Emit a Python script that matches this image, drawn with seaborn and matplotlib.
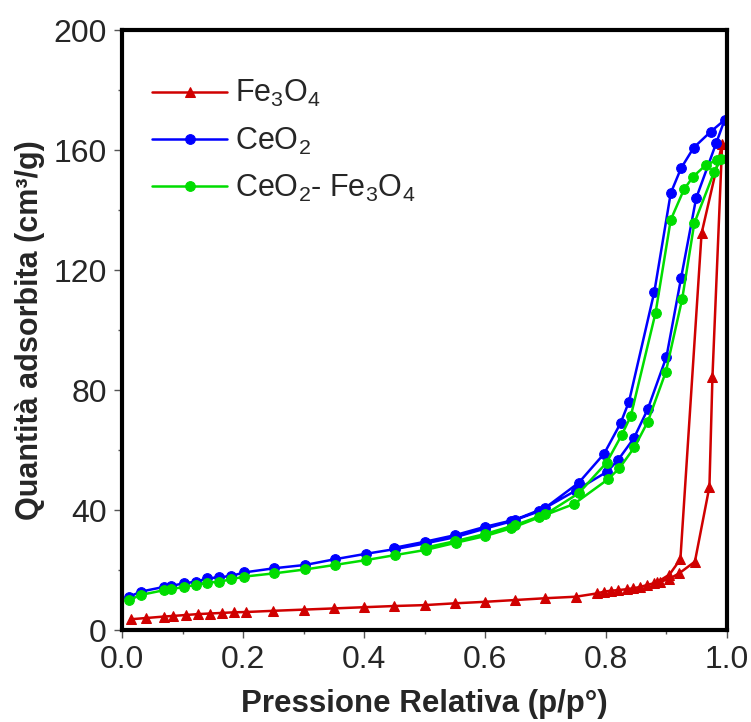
import numpy as np
import pandas as pd
import matplotlib
matplotlib.use("Agg")
import matplotlib.pyplot as plt
import seaborn as sns
from matplotlib.ticker import MultipleLocator

# Fe3O4: adsorption then desorption
fe_x = [0.015, 0.04, 0.07, 0.085, 0.105, 0.125, 0.145, 0.165, 0.185, 0.205,
        0.25, 0.30, 0.35, 0.40, 0.45, 0.50, 0.55, 0.60, 0.65, 0.70, 0.75,
        0.785, 0.797, 0.808, 0.82, 0.834, 0.845, 0.857, 0.868, 0.879, 0.89,
        0.904, 0.921, 0.947, 0.971, 0.976, 0.992,
        0.958, 0.923, 0.905, 0.885]
fe_y = [3.6, 4.0, 4.5, 4.7, 5.0, 5.3, 5.5, 5.7, 5.9, 6.0,
        6.4, 6.8, 7.2, 7.6, 8.0, 8.3, 8.9, 9.4, 10.0, 10.6, 11.1,
        12.2, 12.8, 13.1, 13.3, 13.6, 13.9, 14.4, 15.0, 15.6, 16.1,
        17.0, 18.9, 22.8, 47.8, 84.4, 162.0,
        132.2, 23.6, 18.5, 16.0]

# CeO2
ce_x = [0.012, 0.031, 0.07, 0.081, 0.103, 0.122, 0.141, 0.161, 0.18, 0.202,
        0.252, 0.303, 0.352, 0.403, 0.452, 0.502, 0.552, 0.60, 0.643, 0.69,
        0.75, 0.802, 0.82, 0.846, 0.869, 0.90, 0.924, 0.949, 0.982, 0.996,
        0.973, 0.945, 0.924, 0.907, 0.88, 0.838, 0.824, 0.797, 0.755, 0.70,
        0.65, 0.60, 0.55, 0.50, 0.45]
ce_y = [11.1, 12.8, 14.4, 14.7, 15.6, 16.1, 17.2, 17.6, 18.0, 19.2,
        20.6, 21.7, 23.6, 25.4, 27.0, 28.9, 31.0, 33.8, 36.2, 39.6,
        46.5, 52.8, 56.7, 63.9, 73.6, 91.1, 117.2, 143.9, 162.2, 170.0,
        166.1, 160.8, 153.9, 145.6, 112.8, 76.1, 68.9, 58.8, 49.1, 40.8,
        36.8, 34.4, 31.6, 29.4, 27.4]

# CeO2-Fe3O4
mix_x = [0.012, 0.031, 0.07, 0.081, 0.103, 0.122, 0.141, 0.161, 0.18, 0.202,
         0.252, 0.303, 0.352, 0.403, 0.452, 0.502, 0.552, 0.60, 0.643, 0.69,
         0.747, 0.803, 0.822, 0.847, 0.869, 0.899, 0.926, 0.946, 0.979, 0.99,
         0.984, 0.965, 0.944, 0.929, 0.907, 0.882, 0.841, 0.826, 0.801, 0.755,
         0.70, 0.65, 0.60, 0.55, 0.50]
mix_y = [10.0, 11.7, 13.3, 13.6, 14.4, 15.0, 15.8, 16.1, 16.9, 17.8,
         18.9, 20.2, 21.7, 23.3, 25.0, 26.7, 29.1, 31.3, 33.9, 37.6,
         42.0, 50.2, 53.9, 60.9, 69.4, 86.1, 110.4, 135.6, 152.8, 157.0,
         156.7, 155.0, 151.1, 146.9, 136.7, 105.8, 71.3, 65.0, 55.8, 45.6,
         38.6, 35.0, 32.0, 29.6, 27.4]

labels = ['Fe$_3$O$_4$', 'CeO$_2$', 'CeO$_2$- Fe$_3$O$_4$']
colors = ['#d00000', '#0000ff', '#00dd00']
markers = ['^', 'o', 'o']

sns.set_style('ticks')
plt.rcParams['font.family'] = ['Liberation Sans', 'DejaVu Sans']
plt.rcParams['mathtext.default'] = 'regular'

fig = plt.figure(figsize=(7.51, 7.22), dpi=100)
ax = fig.add_axes([0.1625, 0.1274, 0.8055, 0.8310])

for xs, ys, lab, col, mk in zip([fe_x, ce_x, mix_x], [fe_y, ce_y, mix_y],
                                labels, colors, markers):
    df = pd.DataFrame({'p': xs, 'q': ys})
    sns.lineplot(data=df, x='p', y='q', sort=False, estimator=None, ax=ax,
                 color=col, marker=mk, markersize=7.5 if mk == '^' else 7,
                 markeredgecolor=col, linewidth=1.8, label=lab)

ax.set_xlim(0, 1.0)
ax.set_ylim(0, 200)
ax.xaxis.set_major_locator(MultipleLocator(0.2))
ax.xaxis.set_minor_locator(MultipleLocator(0.1))
ax.yaxis.set_major_locator(MultipleLocator(40))
ax.yaxis.set_minor_locator(MultipleLocator(20))
ax.set_xticks(np.arange(0, 1.01, 0.2))
ax.set_xticklabels(['0.0', '0.2', '0.4', '0.6', '0.8', '1.0'])

for s in ax.spines.values():
    s.set_visible(True)
    s.set_linewidth(3)
    s.set_color('black')

ax.tick_params(which='major', direction='out', length=6, width=1,
               color='#555555', labelsize=23, pad=5)
ax.tick_params(which='minor', direction='out', length=3, width=1,
               color='#555555')

ax.set_xlabel('Pressione Relativa (p/p°)', fontsize=22.5, fontweight='bold',
              labelpad=10)
ax.set_ylabel('Quantità adsorbita (cm³/g)', fontsize=22, fontweight='bold',
              labelpad=6)

leg = ax.legend(loc='upper left', bbox_to_anchor=(0.02, 0.95), frameon=False,
                fontsize=22, handlelength=2.45, handletextpad=0.25,
                labelspacing=0.53, borderaxespad=0.2)

fig.savefig('out.png', dpi=100)
